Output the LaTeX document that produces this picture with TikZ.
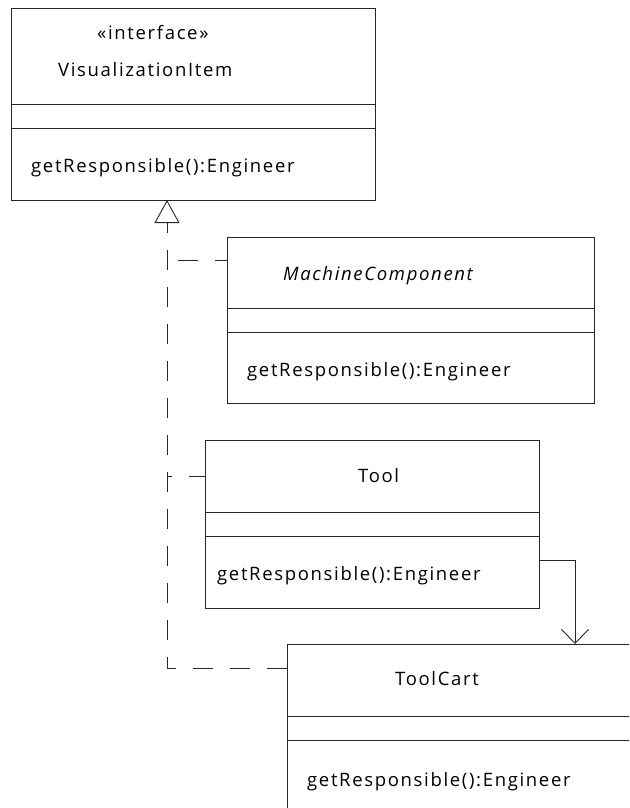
\documentclass[tikz,border=0pt]{standalone}
\usepackage{fontspec}
\setmainfont{Open Sans}[LetterSpace=9]
\usetikzlibrary{positioning,arrows.meta,calc}

\begin{document}
\begin{tikzpicture}[
  x=1pt, y=-1pt,
  cls/.style={draw=black!85, line width=0.9pt, inner sep=0pt, outer sep=0pt},
  lbl/.style={anchor=base west, inner sep=0pt, font=\fontsize{18.5}{20}\selectfont},
  realize/.style={draw=black!85, line width=0.9pt, dash pattern=on 20pt off 17pt},
  assoc/.style={draw=black!85, line width=0.9pt},
]
\useasboundingbox (0,0) rectangle (629,808);
\clip (0,0) rectangle (629,808);

% interface
\node[cls, anchor=north west, minimum width=364pt, minimum height=96pt] (visHead) at (11,8) {};
\node[cls, minimum width=364pt, minimum height=24pt, below=0pt of visHead] (visAttr) {};
\node[cls, minimum width=364pt, minimum height=72pt, below=0pt of visAttr] (visOps) {};
\node[lbl] (visStereo) at ($(visHead.north west)+(86,32)$) {«interface»};
\node[lbl] (visName) at ($(visHead.north west)+(47,68)$) {VisualizationItem};
\node[lbl] (visOp) at ($(visOps.north west)+(20,44)$) {getResponsible():Engineer};

% MachineComponent
\node[cls, anchor=north west, minimum width=367pt, minimum height=71pt] (mcHead) at (227,237) {};
\node[cls, minimum width=367pt, minimum height=24pt, below=0pt of mcHead] (mcAttr) {};
\node[cls, minimum width=367pt, minimum height=71pt, below=0pt of mcAttr] (mcOps) {};
\node[lbl, font=\fontsize{18.5}{20}\selectfont\itshape] (mcName) at ($(mcHead.north west)+(56,43)$) {MachineComponent};
\node[lbl] (mcOp) at ($(mcOps.north west)+(20,44)$) {getResponsible():Engineer};

% Tool
\node[cls, anchor=north west, minimum width=334pt, minimum height=72pt] (toolHead) at (205,440) {};
\node[cls, minimum width=334pt, minimum height=24pt, below=0pt of toolHead] (toolAttr) {};
\node[cls, minimum width=334pt, minimum height=72pt, below=0pt of toolAttr] (toolOps) {};
\node[lbl] (toolName) at ($(toolHead.north west)+(153,42)$) {Tool};
\node[lbl] (toolOp) at ($(toolOps.north west)+(12,44)$) {getResponsible():Engineer};

% ToolCart
\node[cls, anchor=north west, minimum width=400pt, minimum height=72pt] (cartHead) at (287,644) {};
\node[cls, minimum width=400pt, minimum height=24pt, below=0pt of cartHead] (cartAttr) {};
\node[cls, minimum width=400pt, minimum height=72pt, below=0pt of cartAttr] (cartOps) {};
\node[lbl] (cartName) at ($(cartHead.north west)+(108,41)$) {ToolCart};
\node[lbl] (cartOp) at ($(cartOps.north west)+(20,46)$) {getResponsible():Engineer};

% realization
\coordinate (tip) at ($(visOps.south west)+(156,0)$);
\coordinate (mcBranch) at ($(mcHead.north west)+(0,23)$);
\coordinate (cartBranch) at ($(cartHead.north west)+(0,24)$);
\draw[realize, -{Triangle[open, length=23pt, width=25pt]}] (cartBranch) -| (tip);
\draw[realize, dash phase=8pt] (mcBranch) -- (mcBranch -| tip);
\draw[realize, dash phase=4pt] (toolHead.west) -- (toolHead.west -| tip);

% association
\draw[assoc, -{Straight Barb[length=14pt, width=27pt]}] ($(toolOps.north east)+(0,24)$) -| ($(cartHead.north west)+(288,0)$);
\end{tikzpicture}
\end{document}
